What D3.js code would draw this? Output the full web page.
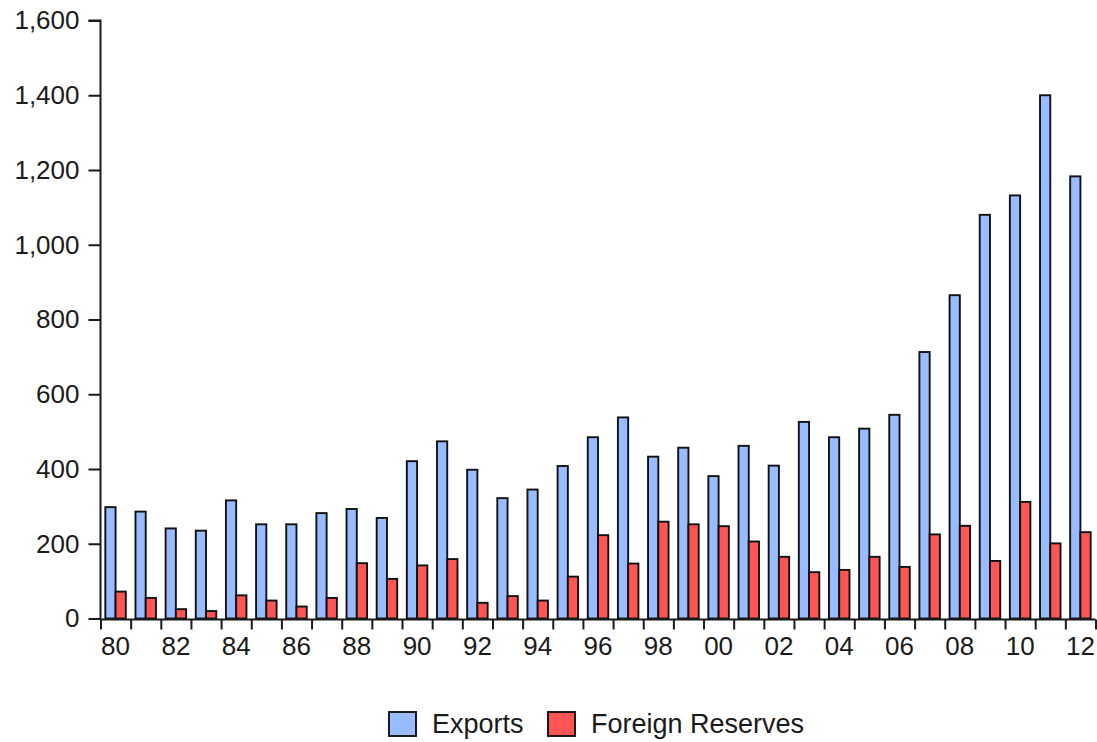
<!DOCTYPE html>
<html>
<head>
<meta charset="utf-8">
<script src="https://cdn.jsdelivr.net/npm/d3@7"></script>
<style>
  html, body { margin: 0; padding: 0; background: #fff; }
  svg { display: block; }
  text { font-family: "Liberation Sans", Arial, sans-serif; fill: #1a1a1a; }
</style>
</head>
<body>
<svg id="chart" width="1097" height="742"></svg>
<script>
const years = ["80","81","82","83","84","85","86","87","88","89","90","91","92","93","94","95","96","97","98","99","00","01","02","03","04","05","06","07","08","09","10","11","12"];
const exportsVals = [298,286,241,235,316,252,252,282,293,269,421,474,398,322,345,408,485,538,433,457,381,462,409,526,485,508,545,713,865,1080,1132,1400,1183];
const reservesVals = [72,55,25,20,62,48,32,55,148,106,142,159,42,60,48,112,223,147,259,252,247,206,165,124,130,165,138,225,248,154,312,201,231];
const yTicks = [0,200,400,600,800,1000,1200,1400,1600];
const seriesNames = ["Exports","Foreign Reserves"];
const seriesColors = ["#99BBFF","#FF5555"];

const svg = d3.select("#chart");
const x0 = 100.5, x1 = 1095.5, yBase = 618.5, yTop = 20.5;

const x = d3.scaleBand().domain(years).range([x0, x1]).paddingInner(0).paddingOuter(0);
const xEdge = d3.scaleLinear().domain([0, years.length]).range([x0, x1]);
const y = d3.scaleLinear().domain([0, 1600]).range([yBase, yTop]);
const sub = d3.scaleBand().domain(seriesNames).range([x.bandwidth()*0.16, x.bandwidth()*0.84]);

const rows = years.map((yr, i) => ({yr, vals: [exportsVals[i], reservesVals[i]]}));

// bars
const g = svg.append("g");
rows.forEach(r => {
  r.vals.forEach((v, j) => {
    g.append("rect")
      .attr("x", x(r.yr) + sub(seriesNames[j]))
      .attr("y", y(v))
      .attr("width", sub.bandwidth())
      .attr("height", y(0) - y(v))
      .attr("fill", seriesColors[j])
      .attr("stroke", "#111")
      .attr("stroke-width", 1.9);
  });
});

// y axis
const yAxis = svg.append("g")
  .attr("transform", `translate(${x0},0)`)
  .call(d3.axisLeft(y).tickValues(yTicks).tickSize(12).tickPadding(9).tickFormat(d3.format(",")));
yAxis.selectAll("path, line").attr("stroke", "#1a1a1a").attr("stroke-width", 2);
yAxis.select(".domain").attr("d", `M-12,${yTop}H0V${yBase + 1}`);
yAxis.selectAll("text").style("font-size", "26px").attr("fill", "#1a1a1a").style("font-family", "'Liberation Sans', Arial, sans-serif");

// x axis boundaries
const xAxis = svg.append("g")
  .attr("transform", `translate(0,${yBase + 1})`)
  .call(d3.axisBottom(xEdge).tickValues(d3.range(years.length + 1)).tickSize(10).tickFormat(""));
xAxis.selectAll("path, line").attr("stroke", "#1a1a1a").attr("stroke-width", 2);
xAxis.select(".domain").attr("d", `M${x0},0H${x1}`);

// x labels
const xLab = svg.append("g")
  .attr("transform", `translate(0,${yBase + 1})`)
  .call(d3.axisBottom(x).tickSize(0).tickPadding(17).tickFormat((d, i) => i % 2 === 0 ? d : ""));
xLab.select(".domain").remove();
xLab.selectAll("text").style("font-size", "26px").attr("fill", "#1a1a1a").style("font-family", "'Liberation Sans', Arial, sans-serif");

// legend
const legend = svg.append("g");
const legX = [389, 548];
seriesNames.forEach((n, i) => {
  legend.append("rect").attr("x", legX[i]).attr("y", 712).attr("width", 27).attr("height", 24)
    .attr("fill", seriesColors[i]).attr("stroke", "#111").attr("stroke-width", 1.9);
  legend.append("text").attr("x", legX[i] + 43).attr("y", 733).text(n)
    .style("font-size", "27px");
});
</script>
</body>
</html>
